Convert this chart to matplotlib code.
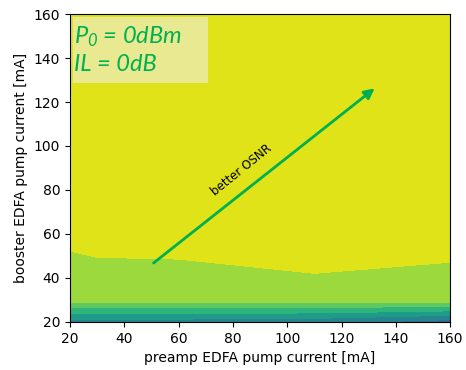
import numpy as np
import matplotlib.pyplot as plt
from matplotlib.patches import Rectangle

plt.rcParams['mathtext.fontset'] = 'custom'
plt.rcParams['mathtext.it'] = 'Lato:italic'
plt.rcParams['mathtext.rm'] = 'Lato:italic'

# pump currents [mA]
preamp_ma = [20, 30, 60, 110, 160]
booster_ma = [20, 30, 60, 110, 160]

# estimated OSNR [dB], one row per booster current
osnr_db = [
    [23.2, 23.1, 23.0, 22.7, 21.0],
    [30.8, 30.8, 30.8, 30.8, 31.0],
    [32.42, 32.66, 32.74, 33.78, 32.75],
    [33.8, 33.8, 33.8, 33.8, 33.8],
    [33.8, 33.8, 33.8, 33.8, 33.8],
]
osnr_levels = [14, 16, 18, 20, 22, 24, 26, 28, 30, 32, 34]

green = '#00b050'

fig = plt.figure(figsize=(4.66, 3.7), dpi=100)
ax = fig.add_axes([0.150, 0.130, 0.816, 0.832])

X, Y = np.meshgrid(preamp_ma, booster_ma)
ax.contourf(X, Y, np.array(osnr_db), levels=osnr_levels, cmap='viridis')

ax.annotate('', xy=(133, 127), xytext=(50, 46),
            arrowprops=dict(arrowstyle='-|>', color=green, lw=2, mutation_scale=15))
ax.text(83, 89, 'better OSNR', rotation=39, ha='center', va='center', fontsize=8.5)

# label box
ax.add_patch(Rectangle((0.008, 0.776), 0.355, 0.214, transform=ax.transAxes,
                       facecolor='#e9e992', edgecolor='none'))
ax.text(0.010, 0.968, '$P_0$ = 0dBm\nIL = 0dB', transform=ax.transAxes, ha='left', va='top',
        fontsize=17, color=green, style='italic', family='Lato', linespacing=1.3)

ax.set_xlim(20, 160)
ax.set_ylim(20, 160)
ax.set_xlabel('preamp EDFA pump current [mA]')
ax.set_ylabel('booster EDFA pump current [mA]')

fig.savefig('out.png', dpi=100)
